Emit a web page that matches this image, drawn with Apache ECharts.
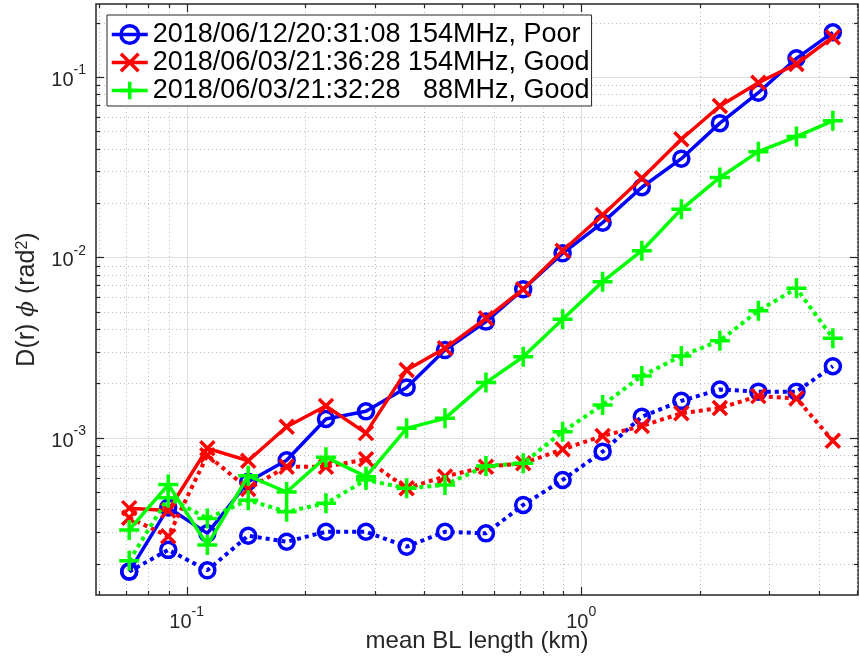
<!DOCTYPE html>
<html><head><meta charset="utf-8">
<script src="https://cdn.jsdelivr.net/npm/echarts@6/dist/echarts.min.js"></script>
<style>html,body{margin:0;padding:0;background:#fff}#c{width:860px;height:664px}</style>
</head><body><div id="c"></div>
<script>
// ---- data ----
const blLength = [0.0715, 0.0898, 0.1128, 0.1432, 0.1792, 0.2254, 0.2847, 0.361, 0.4515, 0.5735, 0.7128, 0.8972, 1.133, 1.4245, 1.794, 2.2465, 2.812, 3.512, 4.344];
const poorSolid = [1.81e-4, 4.1e-4, 2.95e-4, 5.7e-4, 7.5e-4, 1.27e-3, 1.4e-3, 1.9e-3, 3.06e-3, 4.4e-3, 6.65e-3, 1.052e-2, 1.556e-2, 2.445e-2, 3.52e-2, 5.54e-2, 8.17e-2, 0.1267, 0.1766];
const poorDotted = [1.81e-4, 2.39e-4, 1.84e-4, 2.86e-4, 2.65e-4, 3.01e-4, 3.01e-4, 2.49e-4, 3.01e-4, 2.95e-4, 4.24e-4, 5.83e-4, 8.37e-4, 1.307e-3, 1.6e-3, 1.85e-3, 1.8e-3, 1.8e-3, 2.49e-3];
const good154Solid = [4.07e-4, 3.95e-4, 8.73e-4, 7.45e-4, 1.15e-3, 1.5e-3, 1.06e-3, 2.37e-3, 3.13e-3, 4.59e-3, 6.65e-3, 1.088e-2, 1.716e-2, 2.74e-2, 4.51e-2, 6.9e-2, 9.29e-2, 0.1179, 0.166];
const good154Dotted = [3.6e-4, 2.84e-4, 8.0e-4, 5.2e-4, 6.9e-4, 6.9e-4, 7.6e-4, 5.24e-4, 6.1e-4, 6.9e-4, 7.21e-4, 8.62e-4, 1.022e-3, 1.16e-3, 1.365e-3, 1.46e-3, 1.7e-3, 1.65e-3, 9.62e-4];
const good88Solid = [3.08e-4, 5.5e-4, 2.54e-4, 6.15e-4, 5.0e-4, 7.8e-4, 6.08e-4, 1.127e-3, 1.28e-3, 2.02e-3, 2.81e-3, 4.53e-3, 7.33e-3, 1.088e-2, 1.845e-2, 2.77e-2, 3.85e-2, 4.67e-2, 5.71e-2];
const good88Dotted = [2.08e-4, 4.65e-4, 3.57e-4, 4.5e-4, 3.89e-4, 4.33e-4, 5.83e-4, 5.24e-4, 5.47e-4, 6.97e-4, 7.21e-4, 1.08e-3, 1.519e-3, 2.2e-3, 2.84e-3, 3.45e-3, 5.05e-3, 6.73e-3, 3.56e-3];
const seriesNames = ['2018/06/12/20:31:08 154MHz, Poor', '2018/06/03/21:36:28 154MHz, Good', '2018/06/03/21:32:28   88MHz, Good'];

// ---- axis limits and ticks ----
const xLimits = [0.0589, 5.03];
const yLimits = [1.343e-4, 0.2535];
const xMajorTicks = [0.1, 1];
const xMinorTicks = [0.06, 0.07, 0.08, 0.09, 0.2, 0.3, 0.4, 0.5, 0.6, 0.7, 0.8, 0.9, 2, 3, 4, 5];
const yMajorTicks = [1e-3, 1e-2, 1e-1];
const yMinorTicks = [2e-4, 3e-4, 4e-4, 5e-4, 6e-4, 7e-4, 8e-4, 9e-4, 2e-3, 3e-3, 4e-3, 5e-3, 6e-3, 7e-3, 8e-3, 9e-3, 2e-2, 3e-2, 4e-2, 5e-2, 6e-2, 7e-2, 8e-2, 9e-2, 0.2];

const FONT = "'Liberation Sans', Arial, Helvetica, sans-serif";
const AX = '#262626';
const BLUE = '#0000ff', RED = '#ff0000', GREEN = '#00ff00';
const SYM_X = 'path://M0,0L10,10M10,0L0,10';
const SYM_P = 'path://M5,0L5,10M0,5L10,5';

function pow10Label(v) {
  const e = Math.log10(v);
  const r = Math.round(e);
  if (Math.abs(e - r) > 1e-6) return '';
  return '{b|10}{s|' + r + '}';
}
const tickRich = {
  b: {fontSize: 20, fontFamily: FONT, color: AX, lineHeight: 27, verticalAlign: 'bottom'},
  s: {fontSize: 14, fontFamily: FONT, color: AX, lineHeight: 14, verticalAlign: 'top'}
};

const gridData = [];
xMajorTicks.forEach(v => gridData.push([v, yLimits[0], 0, 1]));
xMinorTicks.forEach(v => gridData.push([v, yLimits[0], 0, 0]));
yMajorTicks.forEach(v => gridData.push([xLimits[0], v, 1, 1]));
yMinorTicks.forEach(v => gridData.push([xLimits[0], v, 1, 0]));

function renderGrid(params, api) {
  const cs = params.coordSys;
  const kind = api.value(2), major = api.value(3);
  const p = api.coord([api.value(0), api.value(1)]);
  const gs = major ? {stroke: '#dedede', lineWidth: 1} : {stroke: '#bdbdbd', lineWidth: 1, lineDash: [1, 3]};
  const ts = {stroke: AX, lineWidth: 1.2};
  const tl = major ? 8 : 4;
  const ch = [];
  if (kind === 0) {
    const x = Math.round(p[0]) + 0.5;
    const y0 = cs.y, y1 = cs.y + cs.height;
    ch.push({type: 'line', shape: {x1: x, y1: y0, x2: x, y2: y1}, style: gs});
    ch.push({type: 'line', shape: {x1: x, y1: y1, x2: x, y2: y1 - tl}, style: ts});
    ch.push({type: 'line', shape: {x1: x, y1: y0, x2: x, y2: y0 + tl}, style: ts});
  } else {
    const y = Math.round(p[1]) + 0.5;
    const x0 = cs.x, x1 = cs.x + cs.width;
    ch.push({type: 'line', shape: {x1: x0, y1: y, x2: x1, y2: y}, style: gs});
    ch.push({type: 'line', shape: {x1: x0, y1: y, x2: x0 + tl, y2: y}, style: ts});
    ch.push({type: 'line', shape: {x1: x1, y1: y, x2: x1 - tl, y2: y}, style: ts});
  }
  return {type: 'group', children: ch};
}

function lineSeries(name, ys, color, symbol, size, dotted, z) {
  return {
    name: name, type: 'line', z: z, silent: true,
    data: blLength.map((x, i) => [x, ys[i]]),
    symbol: symbol, symbolSize: size, showSymbol: true,
    lineStyle: {color: color, width: dotted ? 4 : 3.5, type: dotted ? [4, 4] : 'solid', cap: 'butt'},
    itemStyle: {color: 'none', borderColor: color, borderWidth: 3.5, opacity: 1},
    emphasis: {disabled: true}
  };
}

const chart = echarts.init(document.getElementById('c'), null, {renderer: 'canvas'});
chart.setOption({
  animation: false,
  backgroundColor: '#fff',
  grid: {left: 96, right: 2, top: 4, bottom: 69, show: true, borderColor: AX, borderWidth: 1.5, backgroundColor: 'transparent', containLabel: false, outerBoundsMode: 'none'},
  xAxis: {
    type: 'log', min: xLimits[0], max: xLimits[1],
    axisLine: {show: false}, axisTick: {show: false}, splitLine: {show: false}, minorTick: {show: false},
    axisLabel: {formatter: pow10Label, rich: tickRich, margin: 10, hideOverlap: false, showMinLabel: true, showMaxLabel: true},
    name: 'mean BL length (km)', nameLocation: 'middle', nameGap: 34, nameMoveOverlap: false,
    nameTextStyle: {fontSize: 24, fontFamily: FONT, color: AX, verticalAlign: 'top'}
  },
  yAxis: {
    type: 'log', min: yLimits[0], max: yLimits[1],
    axisLine: {show: false}, axisTick: {show: false}, splitLine: {show: false}, minorTick: {show: false},
    axisLabel: {formatter: pow10Label, rich: tickRich, margin: 10},
    name: 'D(r) {i|ϕ} (rad{s|2})', nameLocation: 'middle', nameGap: 56,
    nameTextStyle: {fontSize: 25, fontFamily: FONT, color: AX,
      rich: {
        i: {fontSize: 23, fontFamily: "'DejaVu Serif', serif", fontStyle: 'italic', color: AX},
        s: {fontSize: 16, fontFamily: FONT, color: AX, verticalAlign: 'top', lineHeight: 14}
      }}
  },
  legend: {
    orient: 'vertical', left: 107, top: 15, padding: [6, 2, 2, 3], itemGap: 1,
    itemWidth: 36, itemHeight: 22, selectedMode: false,
    backgroundColor: '#fff', borderColor: AX, borderWidth: 1,
    textStyle: {fontSize: 27, fontFamily: FONT, color: '#000'},
    data: [
      {name: seriesNames[0], itemStyle: {color: 'none', borderColor: BLUE, borderWidth: 3.5}, lineStyle: {color: BLUE, width: 3.5}},
      {name: seriesNames[1], itemStyle: {color: 'none', borderColor: RED, borderWidth: 3.5}, lineStyle: {color: RED, width: 3.5}},
      {name: seriesNames[2], itemStyle: {color: 'none', borderColor: GREEN, borderWidth: 3.5}, lineStyle: {color: GREEN, width: 3.5}}
    ]
  },
  series: [
    {type: 'custom', name: 'gridlines', z: 1, silent: true, clip: false, renderItem: renderGrid,
     encode: {x: 0, y: 1}, data: gridData},
    lineSeries(seriesNames[0], poorSolid, BLUE, 'circle', 15, false, 3),
    lineSeries('poor dotted', poorDotted, BLUE, 'circle', 15, true, 3),
    lineSeries(seriesNames[1], good154Solid, RED, SYM_X, 14, false, 4),
    lineSeries('good154 dotted', good154Dotted, RED, SYM_X, 14, true, 4),
    lineSeries(seriesNames[2], good88Solid, GREEN, SYM_P, 20, false, 5),
    lineSeries('good88 dotted', good88Dotted, GREEN, SYM_P, 20, true, 5)
  ]
});
</script></body></html>
